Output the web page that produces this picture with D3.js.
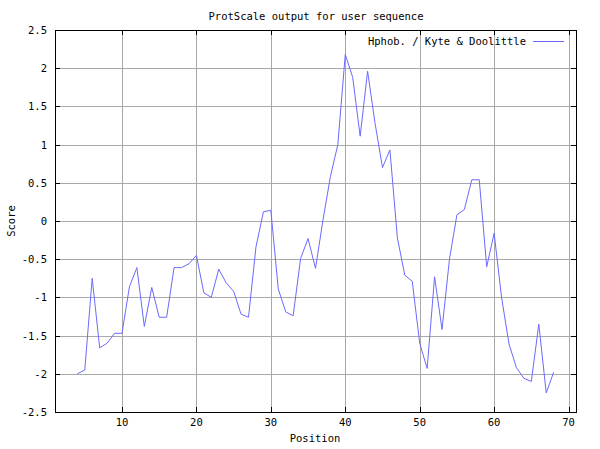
<!DOCTYPE html>
<html>
<head>
<meta charset="utf-8">
<script src="https://cdn.jsdelivr.net/npm/d3@7"></script>
<style>
  body { margin: 0; background: #fff; }
  text { font-family: "DejaVu Sans Mono", monospace; font-size: 10.5px; fill: #000; }
</style>
</head>
<body>
<svg id="chart" width="600" height="449"></svg>
<script>
// Kyte & Doolittle hydrophobicity, window positions 4..68
var positions = d3.range(4, 69);
var scores = [
    -2.0, -1.95, -0.75, -1.66, -1.6, -1.47, -1.47, -0.86, -0.61, -1.38,
    -0.87, -1.26, -1.26, -0.61, -0.61, -0.56, -0.45, -0.94, -1.0, -0.63,
    -0.81, -0.92, -1.22, -1.26, -0.34, 0.12, 0.14, -0.89, -1.19, -1.24,
    -0.49, -0.23, -0.62, 0.01, 0.58, 1.0, 2.18, 1.88, 1.11, 1.96,
    1.28, 0.70, 0.93, -0.22, -0.71, -0.79, -1.6, -1.93, -0.73, -1.42,
    -0.5, 0.08, 0.15, 0.54, 0.54, -0.6, -0.16, -1.0, -1.61, -1.92,
    -2.06, -2.1, -1.35, -2.25, -1.98
];
var xTicks = [10, 20, 30, 40, 50, 60, 70];
var yTicks = [-2.5, -2, -1.5, -1, -0.5, 0, 0.5, 1, 1.5, 2, 2.5];

var lineBlue = "#6a6aff";
var gridGrey = "#a8a8a8";

var svg = d3.select("#chart");
// note: "top" is taken by window.top, so use plot* names
var plotLeft = 55, plotRight = 576, plotTop = 30, plotBottom = 412;

var x = d3.scaleLinear().domain([1, 71]).range([plotLeft, plotRight]);
var y = d3.scaleLinear().domain([-2.5, 2.5]).range([plotBottom, plotTop]);

// grid
svg.append("g").selectAll("line").data(xTicks.filter(function(d) { return x(d) < plotRight - 2; }))
    .join("line")
    .attr("x1", function(d) { return Math.round(x(d)) + 0.5; })
    .attr("x2", function(d) { return Math.round(x(d)) + 0.5; })
    .attr("y1", plotTop).attr("y2", plotBottom)
    .style("stroke", gridGrey).style("stroke-width", 1);

svg.append("g").selectAll("line").data(yTicks.slice(1, -1))
    .join("line")
    .attr("x1", plotLeft).attr("x2", plotRight)
    .attr("y1", function(d) { return Math.round(y(d)) + 0.5; })
    .attr("y2", function(d) { return Math.round(y(d)) + 0.5; })
    .style("stroke", gridGrey).style("stroke-width", 1);

// inward ticks on all four sides
var tickLen = 5;
var ticks = svg.append("g").style("stroke", "#000").style("stroke-width", 1);
xTicks.forEach(function(d) {
    var px = Math.round(x(d)) + 0.5;
    ticks.append("line").attr("x1", px).attr("x2", px).attr("y1", plotBottom).attr("y2", plotBottom - tickLen);
    ticks.append("line").attr("x1", px).attr("x2", px).attr("y1", plotTop).attr("y2", plotTop + tickLen);
});
yTicks.forEach(function(d) {
    var py = Math.round(y(d)) + 0.5;
    ticks.append("line").attr("x1", plotLeft).attr("x2", plotLeft + tickLen).attr("y1", py).attr("y2", py);
    ticks.append("line").attr("x1", plotRight).attr("x2", plotRight - tickLen).attr("y1", py).attr("y2", py);
});

// border
svg.append("rect")
    .attr("x", plotLeft + 0.5).attr("y", plotTop + 0.5)
    .attr("width", plotRight - plotLeft).attr("height", plotBottom - plotTop)
    .style("fill", "none").style("stroke", "#000").style("stroke-width", 1);

// tick labels
svg.append("g").selectAll("text").data(xTicks)
    .join("text")
    .attr("x", function(d) { return x(d); })
    .attr("y", 426)
    .attr("text-anchor", "middle")
    .text(function(d) { return d; });

svg.append("g").selectAll("text").data(yTicks)
    .join("text")
    .attr("x", 47)
    .attr("y", function(d) { return y(d) + 4; })
    .attr("text-anchor", "end")
    .text(function(d) { return String(d); });

// titles
svg.append("text").attr("x", 316).attr("y", 20).attr("text-anchor", "middle")
    .text("ProtScale output for user sequence");
svg.append("text").attr("x", 315).attr("y", 442).attr("text-anchor", "middle")
    .text("Position");
svg.append("text").attr("transform", "translate(15,221) rotate(-90)").attr("text-anchor", "middle")
    .text("Score");

// data line
var line = d3.line()
    .x(function(d, i) { return x(positions[i]); })
    .y(function(d) { return y(d); });

svg.append("path")
    .datum(scores)
    .attr("d", line)
    .style("fill", "none")
    .style("stroke", lineBlue)
    .style("stroke-width", 1);

// legend
svg.append("text").attr("x", 526).attr("y", 45).attr("text-anchor", "end")
    .text("Hphob. / Kyte & Doolittle");
svg.append("line")
    .attr("x1", 533).attr("x2", 564).attr("y1", 41.5).attr("y2", 41.5)
    .style("stroke", lineBlue).style("stroke-width", 1);
</script>
</body>
</html>
